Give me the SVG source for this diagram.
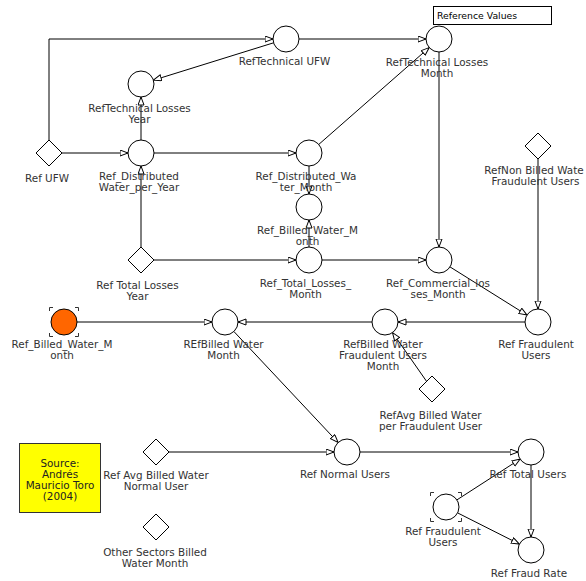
<svg xmlns="http://www.w3.org/2000/svg" width="586" height="581" viewBox="0 0 586 581">
<style>
.bg{fill:#fff}
.n{fill:#fff;stroke:#000;stroke-width:1}
.c{fill:none;stroke:#000;stroke-width:1}
.t{font-family:"DejaVu Sans",Verdana,sans-serif;font-size:10.4px;fill:#333;text-anchor:middle}
.tl{font-family:"DejaVu Sans",Verdana,sans-serif;font-size:9.3px;fill:#000}
.br{fill:none;stroke:#333;stroke-width:1}
</style>
<defs>
<marker id="a" markerUnits="userSpaceOnUse" markerWidth="10" markerHeight="8" refX="8.5" refY="3.5" orient="auto">
<path d="M0.5,0.5 L8.5,3.5 L0.5,6.5 Z" fill="#fff" stroke="#000" stroke-width="1"/>
</marker>
</defs>
<rect class="bg" x="0" y="0" width="586" height="581"/>
<g id="connectors" class="c" marker-end="url(#a)">
<path d="M49,140 V39 H273"/>
<path d="M62,153 H128"/>
<path d="M273.6,42.8 L153.4,80.2"/>
<path d="M141,140 V97"/>
<path d="M299,39 H426"/>
<path d="M154,153 H296"/>
<path d="M318.8,144.4 L429.2,47.6"/>
<path d="M309,166 V194"/>
<path d="M309,247 V220"/>
<path d="M141,247 V166"/>
<path d="M154,260 H296"/>
<path d="M322,260 H426"/>
<path d="M439,52 V247"/>
<path d="M450,266.9 L527,315.1"/>
<path d="M538,159 V309"/>
<path d="M525,322 H398"/>
<path d="M372,322 H238"/>
<path d="M77,322 H212"/>
<path d="M426.6,381.4 L392.5,332.6"/>
<path d="M233.9,331.5 L338.1,442.5"/>
<path d="M169,452 H334"/>
<path d="M360,452 H518"/>
<path d="M456.9,499.9 L520.1,459.1"/>
<path d="M457.6,512.9 L519.4,544.1"/>
<path d="M531,465 V537"/>
</g>
<g id="reference-values">
<rect x="433.5" y="6.5" width="118" height="18" fill="#fff" stroke="#000"/>
<text class="tl" x="437" y="19">Reference Values</text>
</g>
<g id="ref-technical-ufw">
<circle class="n" cx="286" cy="39" r="13"/>
<text class="t" x="284.5" y="65">RefTechnical UFW</text>
</g>
<g id="ref-technical-losses-month">
<circle class="n" cx="439" cy="39" r="13"/>
<text class="t" x="437" y="66">RefTechnical Losses</text>
<text class="t" x="437" y="77">Month</text>
</g>
<g id="ref-technical-losses-year">
<circle class="n" cx="141" cy="84" r="13"/>
<text class="t" x="139.5" y="112">RefTechnical Losses</text>
<text class="t" x="139.5" y="123">Year</text>
</g>
<g id="ref-ufw">
<path class="n" d="M49,140 L62,153 L49,166 L36,153 Z"/>
<text class="t" x="47" y="182">Ref UFW</text>
</g>
<g id="ref-distributed-water-per-year">
<circle class="n" cx="141" cy="153" r="13"/>
<text class="t" x="139" y="180">Ref_Distributed</text>
<text class="t" x="139" y="191">Water_per_Year</text>
</g>
<g id="ref-distributed-water-month">
<circle class="n" cx="309" cy="153" r="13"/>
<text class="t" x="306" y="180">Ref_Distributed_Wa</text>
<text class="t" x="306" y="191">ter_Month</text>
</g>
<g id="ref-billed-water-month-mid">
<circle class="n" cx="309" cy="207" r="13"/>
<text class="t" x="307.5" y="234">Ref_Billed_Water_M</text>
<text class="t" x="307.5" y="245">onth</text>
</g>
<g id="ref-total-losses-year">
<path class="n" d="M141,247 L154,260 L141,273 L128,260 Z"/>
<text class="t" x="137.5" y="289">Ref Total Losses</text>
<text class="t" x="137.5" y="300">Year</text>
</g>
<g id="ref-total-losses-month">
<circle class="n" cx="309" cy="260" r="13"/>
<text class="t" x="305.5" y="287">Ref_Total_Losses_</text>
<text class="t" x="305.5" y="298">Month</text>
</g>
<g id="ref-commercial-losses-month">
<circle class="n" cx="439" cy="260" r="13"/>
<text class="t" x="438" y="287">Ref_Commercial_los</text>
<text class="t" x="438" y="298">ses_Month</text>
</g>
<g id="refnon-billed-water-fraudulent-users">
<path class="n" d="M538,133 L551,146 L538,159 L525,146 Z"/>
<text class="t" x="534" y="174">RefNon Billed Wate</text>
<text class="t" x="535.5" y="185">Fraudulent Users</text>
</g>
<g id="ref-fraudulent-users">
<circle class="n" cx="538" cy="322" r="13"/>
<text class="t" x="536" y="348">Ref Fraudulent</text>
<text class="t" x="536" y="359">Users</text>
</g>
<g id="refbilled-water-fraudulent-users-month">
<circle class="n" cx="385" cy="322" r="13"/>
<text class="t" x="383" y="348">RefBilled Water</text>
<text class="t" x="383" y="359">Fraudulent Users</text>
<text class="t" x="383" y="370">Month</text>
</g>
<g id="refbilled-water-month">
<circle class="n" cx="225" cy="322" r="13"/>
<text class="t" x="223.5" y="348">REfBilled Water</text>
<text class="t" x="223.5" y="359">Month</text>
</g>
<g id="ref-billed-water-month-ghost">
<circle cx="64" cy="322" r="13" fill="#FF6600" stroke="#000"/>
<path class="br" d="M49.5,311 V307.5 H53 M75,307.5 H78.5 V311 M78.5,333 V336.5 H75 M53,336.5 H49.5 V333"/>
<text class="t" x="62" y="348">Ref_Billed_Water_M</text>
<text class="t" x="62" y="359">onth</text>
</g>
<g id="refavg-billed-water-per-fraudulent-user">
<path class="n" d="M432,376 L445,389 L432,402 L419,389 Z"/>
<text class="t" x="430.5" y="419">RefAvg Billed Water</text>
<text class="t" x="430.5" y="430">per Fraudulent User</text>
</g>
<g id="ref-normal-users">
<circle class="n" cx="347" cy="452" r="13"/>
<text class="t" x="345" y="478">Ref Normal Users</text>
</g>
<g id="ref-avg-billed-water-normal-user">
<path class="n" d="M156,439 L169,452 L156,465 L143,452 Z"/>
<text class="t" x="156" y="479">Ref Avg Billed Water</text>
<text class="t" x="156" y="490">Normal User</text>
</g>
<g id="ref-total-users">
<circle class="n" cx="531" cy="452" r="13"/>
<text class="t" x="528" y="478">Ref Total Users</text>
</g>
<g id="ref-fraudulent-users-ghost">
<circle class="n" cx="446" cy="507" r="13"/>
<path class="br" d="M430.5,496 V492.5 H434 M458,492.5 H461.5 V496 M461.5,518 V521.5 H458 M434,521.5 H430.5 V518"/>
<text class="t" x="443" y="535">Ref Fraudulent</text>
<text class="t" x="443" y="546">Users</text>
</g>
<g id="ref-fraud-rate">
<circle class="n" cx="531" cy="550" r="13"/>
<text class="t" x="529" y="577">Ref Fraud Rate</text>
</g>
<g id="other-sectors-billed-water-month">
<path class="n" d="M156,514 L169,527 L156,540 L143,527 Z"/>
<text class="t" x="155" y="556">Other Sectors Billed</text>
<text class="t" x="155" y="567">Water Month</text>
</g>
<g id="source">
<rect x="19.5" y="443.5" width="81" height="69" fill="#FFFF00" stroke="#333"/>
<text class="t" x="60" y="467" style="fill:#222">Source:</text>
<text class="t" x="60" y="478" style="fill:#222">Andrés</text>
<text class="t" x="60" y="489" style="fill:#222">Mauricio Toro</text>
<text class="t" x="60" y="500" style="fill:#222">(2004)</text>
</g>
</svg>
